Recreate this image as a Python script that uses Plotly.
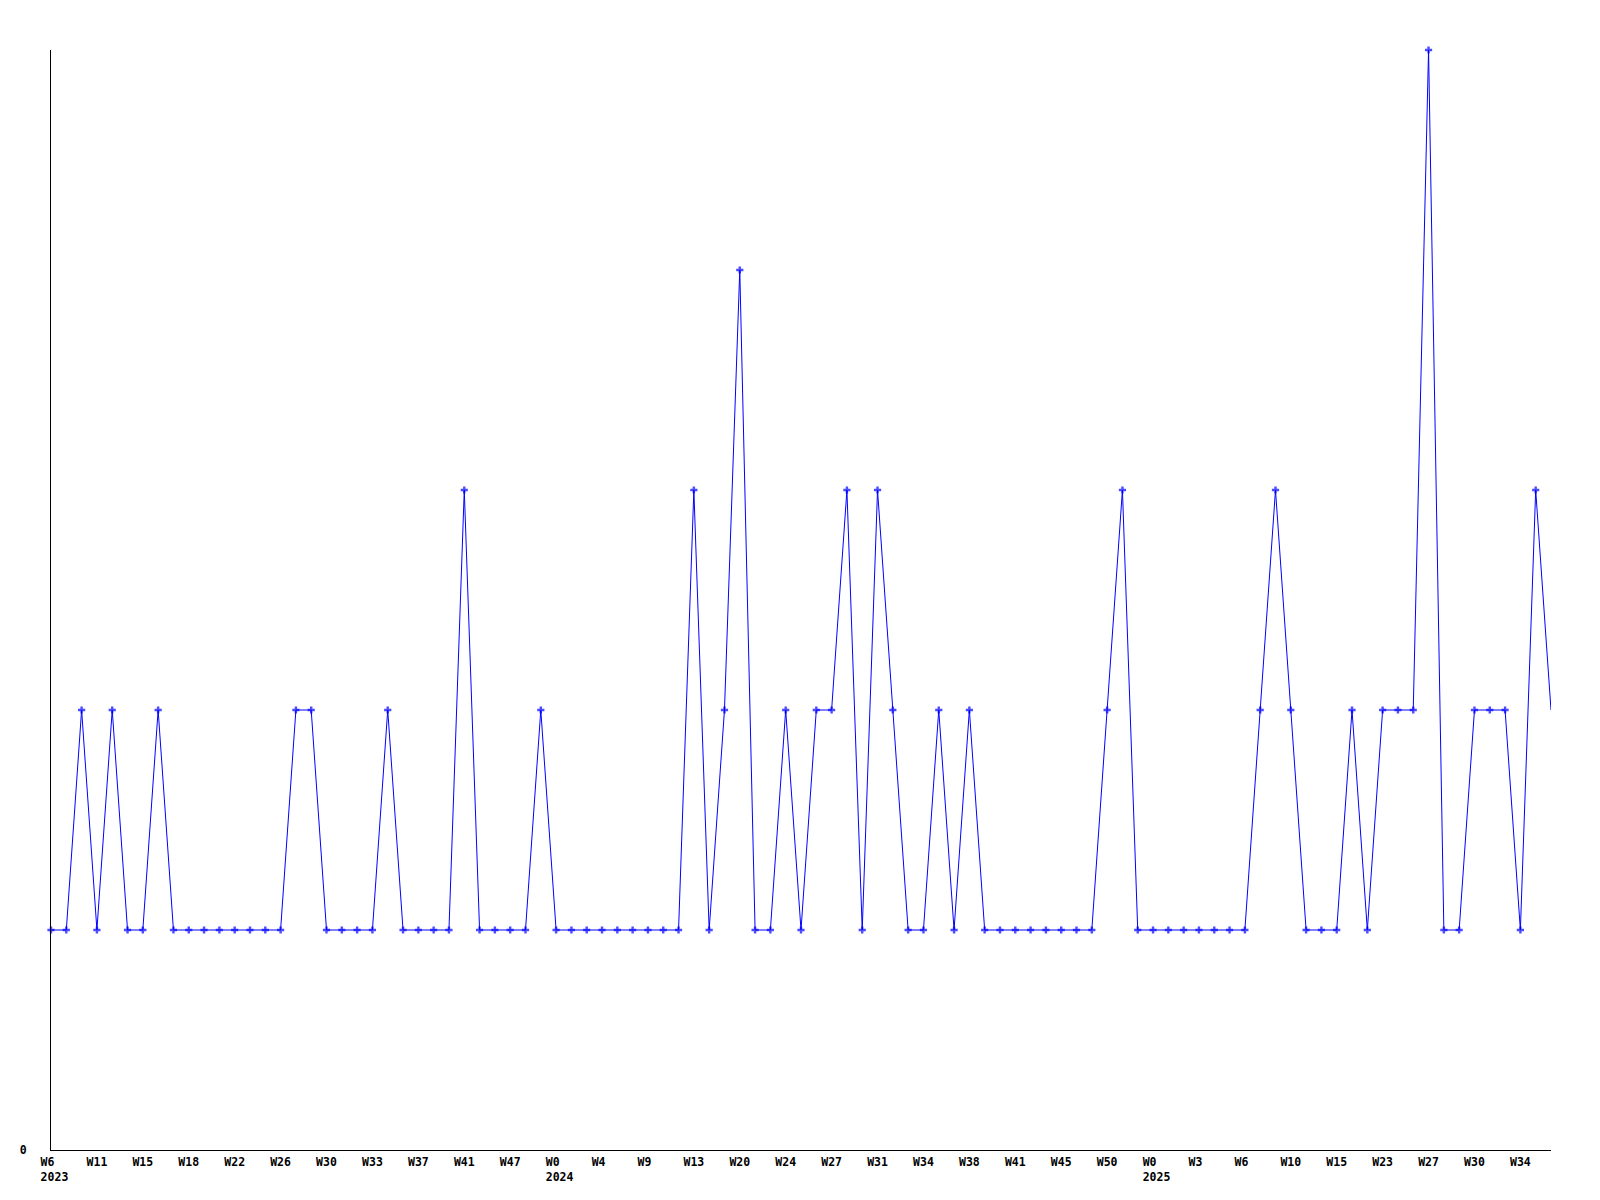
import plotly.graph_objects as go

# Weekly counts (one value per week position)
values = [1, 1, 2, 1, 2, 1, 1, 2, 1, 1,
          1, 1, 1, 1, 1, 1, 2, 2, 1, 1,
          1, 1, 2, 1, 1, 1, 1, 3, 1, 1,
          1, 1, 2, 1, 1, 1, 1, 1, 1, 1,
          1, 1, 3, 1, 2, 4, 1, 1, 2, 1,
          2, 2, 3, 1, 3, 2, 1, 1, 2, 1,
          2, 1, 1, 1, 1, 1, 1, 1, 1, 2,
          3, 1, 1, 1, 1, 1, 1, 1, 1, 2,
          3, 2, 1, 1, 1, 2, 1, 2, 2, 2,
          5, 1, 1, 2, 2, 2, 1, 3, 2]

# Tick labels, one every 3 week positions
week_labels = ["W6", "W11", "W15", "W18", "W22", "W26", "W30", "W33", "W37", "W41",
               "W47", "W0", "W4", "W9", "W13", "W20", "W24", "W27", "W31", "W34",
               "W38", "W41", "W45", "W50", "W0", "W3", "W6", "W10", "W15", "W23",
               "W27", "W30", "W34"]
year_labels = {0: "2023", 11: "2024", 24: "2025"}
tick_step = 3

NB = "\u00a0"


def left_pad(s):
    # monospace: make each line start 1.5 characters left of the tick
    n = len(s)
    if n <= 3:
        return s + NB * (3 - n)
    return NB * (n - 3) + s


x = list(range(len(values)))
tickvals = []
ticktext = []
for k, w in enumerate(week_labels):
    tickvals.append(k * tick_step)
    t = left_pad(w)
    if k in year_labels:
        t += "<br>" + left_pad(year_labels[k])
    ticktext.append(t)

marker_sizes = [6] * (len(values) - 1) + [0]

fig = go.Figure()
fig.add_trace(go.Scatter(
    x=x, y=values, mode="lines+markers",
    line=dict(color="#0000ff", width=1),
    marker=dict(symbol="cross", size=marker_sizes, color="#0000ff", line=dict(width=0)),
    cliponaxis=False, hoverinfo="skip", showlegend=False,
))

font = dict(family="DejaVu Sans Mono", size=11.5, color="#000000", weight="bold")

fig.update_layout(
    width=1584, height=1184,
    margin=dict(l=43, r=41, t=42, b=42),
    paper_bgcolor="white", plot_bgcolor="white",
    font=font,
    xaxis=dict(range=[0, len(values) - 1], tickmode="array", tickvals=tickvals, ticktext=ticktext,
               showgrid=False, zeroline=False, showline=True, linecolor="black", linewidth=1,
               ticks="", tickangle=0, tickfont=font, ticklabelstandoff=1, automargin=False),
    yaxis=dict(range=[0, 5], tickmode="array", tickvals=[0], ticktext=["0"],
               showgrid=False, zeroline=False, showline=True, linecolor="black", linewidth=1,
               ticks="", tickfont=font, ticklabelstandoff=21, automargin=False),
)

fig.write_html("out.html")
